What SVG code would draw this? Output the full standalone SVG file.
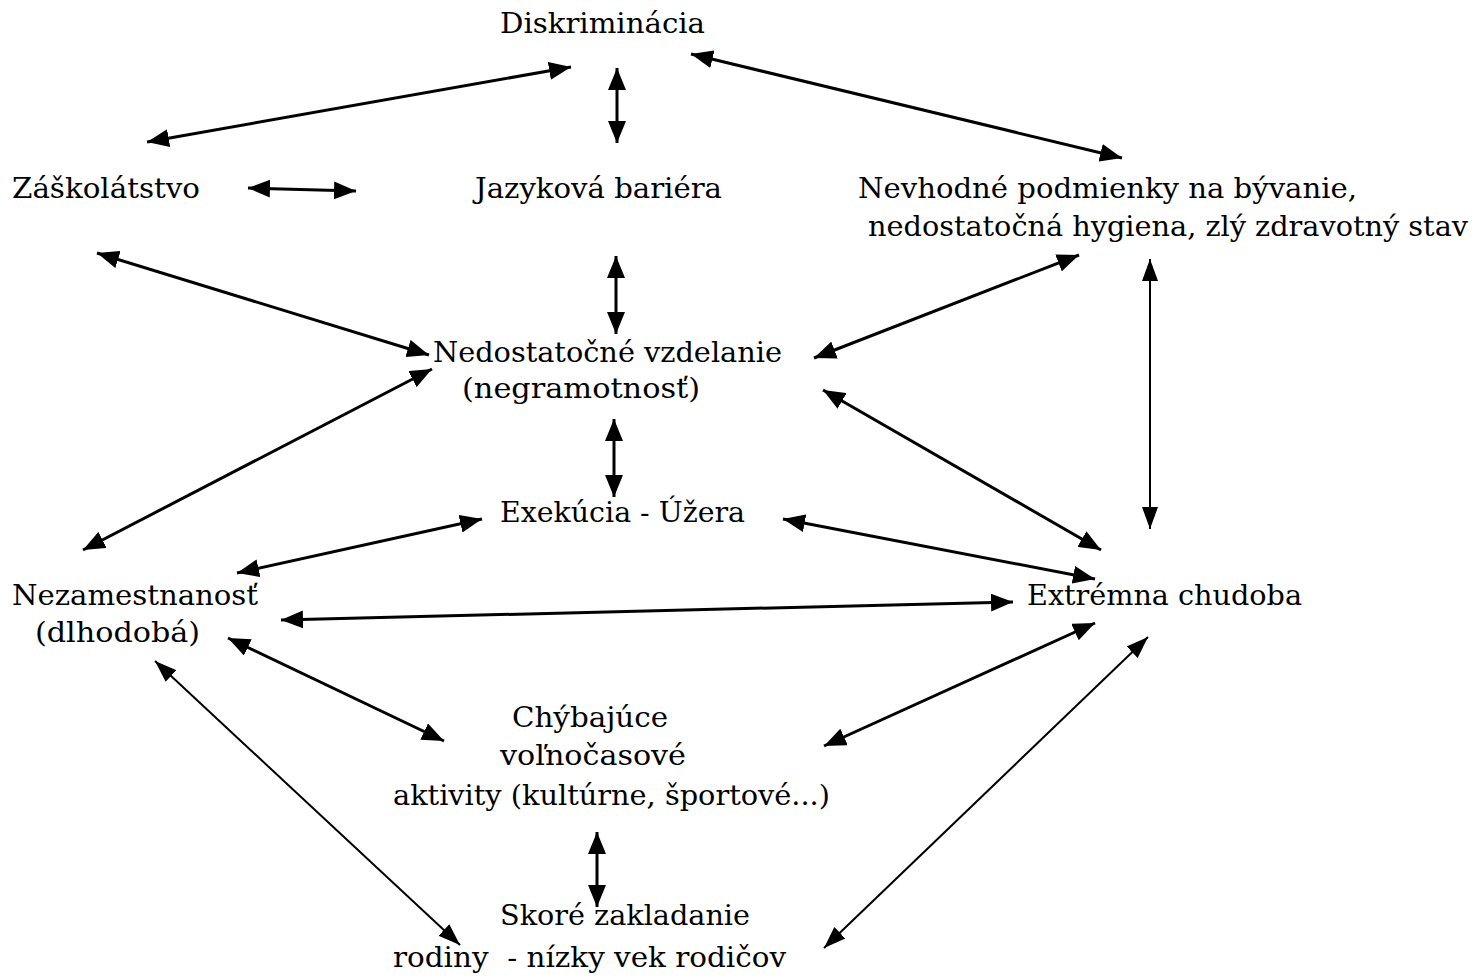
<svg xmlns="http://www.w3.org/2000/svg" width="1476" height="978" viewBox="0 0 1476 978">
<style>
text{font-family:"DejaVu Serif Condensed","DejaVu Serif","Liberation Serif",serif;font-size:28px;fill:#000;}
.c line{stroke:#000;stroke-width:3;marker-start:url(#ah);marker-end:url(#ah);}
.c line.t{stroke-width:2;marker-start:url(#ahs);marker-end:url(#ahs);}
</style>
<defs>
<marker id="ah" markerUnits="userSpaceOnUse" markerWidth="24" markerHeight="18" refX="22" refY="9" orient="auto-start-reverse"><path d="M0,0 L22,9 L0,18 z" fill="#000"/></marker>
<marker id="ahs" markerUnits="userSpaceOnUse" markerWidth="24" markerHeight="18" refX="22" refY="9" orient="auto-start-reverse"><path d="M0,1 L22,9 L0,17 z" fill="#000"/></marker>
</defs>
<rect width="1476" height="978" fill="#fff"/>
<g class="c" id="connectors">
<line x1="571" y1="67" x2="147" y2="142"/>
<line x1="617" y1="68" x2="617" y2="143"/>
<line x1="691" y1="54" x2="1122" y2="158"/>
<line x1="248" y1="188" x2="356" y2="191"/>
<line x1="97" y1="253" x2="429" y2="355"/>
<line x1="616" y1="256" x2="616" y2="334"/>
<line x1="1079" y1="255" x2="814" y2="358"/>
<line class="t" x1="1150" y1="259" x2="1150" y2="529"/>
<line x1="432" y1="369" x2="83" y2="550"/>
<line x1="614" y1="419" x2="614" y2="497"/>
<line x1="823" y1="390" x2="1101" y2="550"/>
<line x1="482" y1="519" x2="237" y2="573"/>
<line x1="783" y1="519" x2="1095" y2="579"/>
<line x1="281" y1="620" x2="1013" y2="602"/>
<line x1="228" y1="638" x2="444" y2="741"/>
<line class="t" x1="155" y1="661" x2="460" y2="945"/>
<line x1="1095" y1="623" x2="824" y2="746"/>
<line class="t" x1="1148" y1="637" x2="824" y2="948"/>
<line x1="597" y1="832" x2="597" y2="907"/>
</g>
<g id="n-diskriminacia"><text x="500" y="33" textLength="205" lengthAdjust="spacingAndGlyphs">Diskriminácia</text></g>
<g id="n-zaskolatstvo"><text x="12" y="198" textLength="188" lengthAdjust="spacingAndGlyphs">Záškolátstvo</text></g>
<g id="n-jazykova"><text x="475" y="198" textLength="247" lengthAdjust="spacingAndGlyphs">Jazyková bariéra</text></g>
<g id="n-nevhodne">
<text x="858" y="198" textLength="499" lengthAdjust="spacingAndGlyphs">Nevhodné podmienky na bývanie,</text>
<text x="868" y="236" textLength="600" lengthAdjust="spacingAndGlyphs">nedostatočná hygiena, zlý zdravotný stav</text>
</g>
<g id="n-vzdelanie">
<text x="433" y="362" textLength="349" lengthAdjust="spacingAndGlyphs">Nedostatočné vzdelanie</text>
<text x="462" y="398" textLength="238" lengthAdjust="spacingAndGlyphs">(negramotnosť)</text>
</g>
<g id="n-exekucia"><text x="500" y="522" textLength="245" lengthAdjust="spacingAndGlyphs">Exekúcia - Úžera</text></g>
<g id="n-nezamestnanost">
<text x="12" y="605" textLength="246" lengthAdjust="spacingAndGlyphs">Nezamestnanosť</text>
<text x="35" y="642" textLength="165" lengthAdjust="spacingAndGlyphs">(dlhodobá)</text>
</g>
<g id="n-chudoba"><text x="1027" y="605" textLength="275" lengthAdjust="spacingAndGlyphs">Extrémna chudoba</text></g>
<g id="n-aktivity">
<text x="512" y="727" textLength="156" lengthAdjust="spacingAndGlyphs">Chýbajúce</text>
<text x="500" y="765" textLength="186" lengthAdjust="spacingAndGlyphs">voľnočasové</text>
<text x="393" y="805" textLength="437" lengthAdjust="spacingAndGlyphs">aktivity (kultúrne, športové...)</text>
</g>
<g id="n-rodina">
<text x="500" y="925" textLength="250" lengthAdjust="spacingAndGlyphs">Skoré zakladanie</text>
<text x="393" y="967" textLength="393" lengthAdjust="spacingAndGlyphs" xml:space="preserve">rodiny  - nízky vek rodičov</text>
</g>
</svg>
